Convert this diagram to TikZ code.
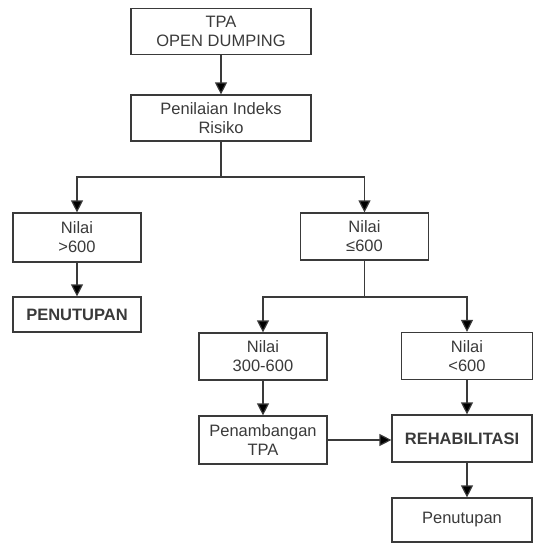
\documentclass[tikz,border=0pt]{standalone}
\usepackage{fontspec}
\setmainfont{Liberation Sans}
\usetikzlibrary{arrows.meta}

\definecolor{ink}{HTML}{3A3A3A}

\tikzset{
	box/.style = {draw = ink, line width = 1.2pt, align = center, text = ink, inner sep = 0pt,
		font = \fontsize{16.5}{19}\selectfont},
	arr/.style = {draw = ink, line width = 1.2pt, -{Triangle[width = 12pt, length = 12pt, fill = black]}},
	link/.style = {draw = ink, line width = 1.2pt}
}

\begin{document}
\begin{tikzpicture}[x = 1pt, y = -1pt]

	% Definitions

	\def\W{128}	% Width of the lower boxes
	\def\H{47}	% Height of the two line boxes

	\useasboundingbox (0, 0) rectangle (535, 543);

	% Top of the chart

	\node [box, minimum width = 180pt, minimum height = 46pt] (tpa) at (221, 31.5) {TPA\\OPEN DUMPING};
	\node [box, minimum width = 180pt, minimum height = 46pt] (risk) at (221, 118) {Penilaian Indeks\\Risiko};

	% Left branch

	\node [box, minimum width = \W pt, minimum height = 49pt] (high) at (77, 237.5) {Nilai\\>600};
	\node [box, minimum width = \W pt, minimum height = 35pt, font = \fontsize{16.5}{19}\selectfont\bfseries] (close) at (77, 314.5) {PENUTUPAN};

	% Right branch

	\node [box, minimum width = \W pt, minimum height = \H pt] (low) at (364.5, 236.5) {Nilai\\≤600};
	\node [box, minimum width = \W pt, minimum height = \H pt] (mid) at (263, 356.5) {Nilai\\300-600};
	\node [box, minimum width = 131pt, minimum height = \H pt] (less) at (467, 356) {Nilai\\<600};
	\node [box, minimum width = \W pt, minimum height = 48pt] (mine) at (263, 440) {Penambangan\\TPA};
	\node [box, minimum width = 140pt, minimum height = \H pt, font = \fontsize{16.5}{19}\selectfont\bfseries] (rehab) at (462, 438.5) {REHABILITASI};
	\node [box, minimum width = 140pt, minimum height = 44pt] (final) at (462, 520) {Penutupan};

	% Splits

	\coordinate (split) at (221, 177);
	\coordinate (splitlow) at (364.5, 297);

	% Connectors

	\draw [arr] (tpa) -- (risk);
	\draw [link] (risk) -- (split);
	\draw [arr] (split) -| (high.north);
	\draw [arr] (split) -| (low.north);
	\draw [arr] (high) -- (close);

	\draw [link] (low) -- (splitlow);
	\draw [arr] (splitlow) -| (mid.north);
	\draw [arr] (splitlow) -| (less.north);
	\draw [arr] (mid) -- (mine);
	\draw [arr] (less.south) -- (less.south |- rehab.north);
	\draw [arr] (mine.east) -- (mine.east -| rehab.west);
	\draw [arr] (rehab.south -| less.south) -- (less.south |- final.north);

\end{tikzpicture}
\end{document}
